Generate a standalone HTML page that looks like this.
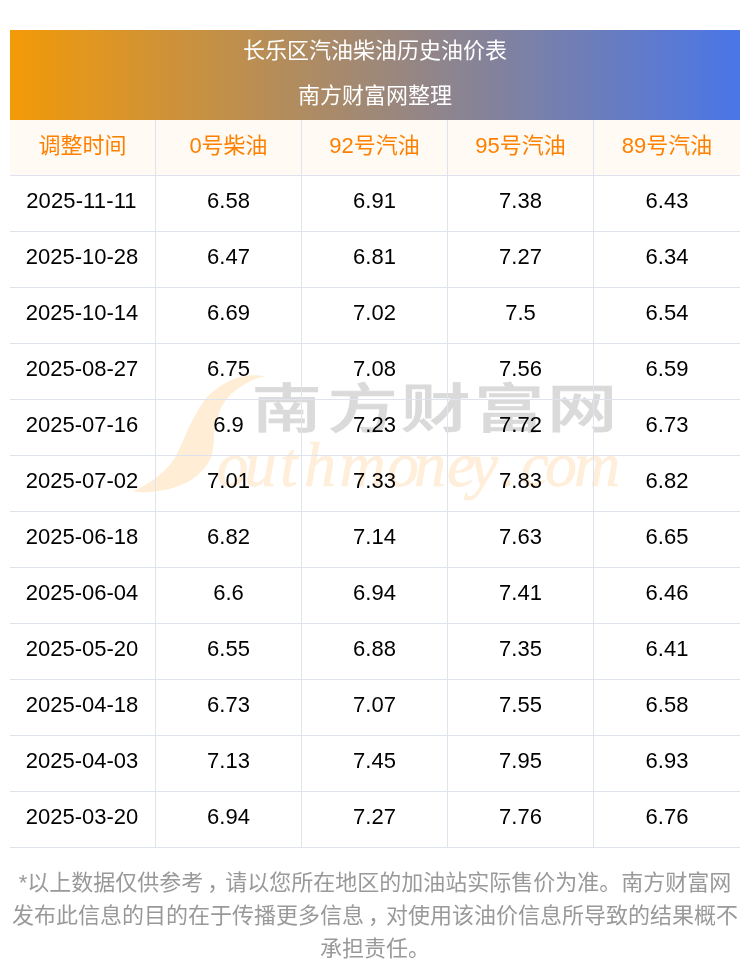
<!DOCTYPE html>
<html lang="zh-CN">
<head>
<meta charset="utf-8">
<title>长乐区汽油柴油历史油价表</title>
<style>
html,body{margin:0;padding:0;background:#fff;}
body{width:750px;height:977px;position:relative;overflow:hidden;font-family:"Liberation Sans","Noto Sans CJK SC",sans-serif;color:#000;}
.wrap{position:absolute;left:10px;top:30px;width:730px;z-index:2;}
.hd{height:90px;background:linear-gradient(90deg,#f39a07 0%,#4a76e8 100%);color:#fff;text-align:center;font-size:22px;}
.hd div{height:45px;line-height:42px;}
table{border-collapse:separate;border-spacing:0;width:730px;table-layout:fixed;}
td,th{height:56px;padding:0 0 6px 0;text-align:center;font-size:22px;font-weight:normal;border-bottom:1px solid #dee3ed;border-right:1px solid #dee3ed;box-sizing:border-box;}
td:last-child,th:last-child{border-right:none;}
th{background:#fffaf3;color:#ff8000;font-size:22px;padding-bottom:9px;}
td:first-child{padding-right:1px;}
tr:nth-child(2) td:first-child{letter-spacing:0.12px;padding-right:2px;}
.ft{position:absolute;left:10px;top:866px;width:730px;text-align:center;color:#999;font-size:22px;line-height:33px;}
.c{position:relative;left:4px;}
.wm{position:absolute;left:0;top:0;z-index:1;}
</style>
</head>
<body>
<svg class="wm" width="750" height="977" viewBox="0 0 750 977">
<path d="M265.3 376.3 C263.5 376.1 258.2 375.3 254.7 375.3 C251.1 375.3 247.6 375.6 244.0 376.3 C240.4 377.0 236.9 377.9 233.3 379.3 C229.8 380.7 226.0 382.7 222.7 384.7 C219.4 386.7 216.2 388.9 213.3 391.3 C210.4 393.7 207.7 396.3 205.3 399.3 C202.9 402.3 200.7 406.1 198.7 409.3 C196.7 412.5 195.1 415.4 193.3 418.7 C191.5 422.0 189.6 426.0 188.0 429.3 C186.4 432.6 185.4 435.5 184.0 438.7 C182.6 441.9 180.9 445.5 179.3 448.7 C177.8 451.9 176.5 455.1 174.7 458.0 C172.9 460.9 170.8 463.6 168.7 466.0 C166.6 468.4 164.4 470.5 162.0 472.7 C159.6 474.9 156.9 477.2 154.0 479.3 C151.1 481.4 148.2 483.2 144.7 485.3 C141.1 487.4 134.7 490.6 132.7 491.6 C134.5 491.7 139.3 492.4 143.3 492.4 C147.3 492.3 152.2 491.9 156.7 491.3 C161.1 490.7 165.6 489.9 170.0 488.7 C174.4 487.5 179.3 485.8 183.3 484.0 C187.3 482.2 190.8 480.3 194.0 478.0 C197.2 475.7 200.2 472.7 202.7 470.0 C205.1 467.3 207.1 464.7 208.7 462.0 C210.2 459.3 211.2 457.1 212.0 454.0 C212.8 450.9 213.3 447.0 213.7 443.3 C214.0 439.6 213.6 435.7 214.1 432.0 C214.6 428.3 215.7 424.9 216.7 421.3 C217.7 417.8 218.8 413.8 220.0 410.7 C221.2 407.6 222.4 405.1 224.0 402.7 C225.6 400.2 227.3 398.1 229.3 396.0 C231.3 393.9 233.6 391.9 236.0 390.0 C238.4 388.1 240.9 386.5 244.0 384.7 C247.1 382.9 251.1 380.7 254.7 379.3 C258.2 377.9 263.5 376.8 265.3 376.3 Z" fill="#ffedd5"/>
<text transform="translate(251.7 428) scale(1.32 1)" x="0 57.6 112.9 168.7 223.9" y="0" font-family="'Liberation Sans','Noto Sans CJK SC',sans-serif" font-weight="500" font-size="53" fill="#dadada" stroke="#dadada" stroke-width="0.7">南方财富网</text>
<text x="216.5 244.4 280 304 339.5 387 414 447 469.8 500 520.5 545 574" y="486" font-family="'Liberation Serif',serif" font-style="italic" font-size="64" fill="#ffeed9" stroke="#ffeed9" stroke-width="0.6">outhmoney.com</text>
</svg>
<div class="wrap">
<div class="hd"><div>长乐区汽油柴油历史油价表</div><div>南方财富网整理</div></div>
<table>
<tr><th>调整时间</th><th>0号柴油</th><th>92号汽油</th><th>95号汽油</th><th>89号汽油</th></tr>
<tr><td>2025-11-11</td><td>6.58</td><td>6.91</td><td>7.38</td><td>6.43</td></tr>
<tr><td>2025-10-28</td><td>6.47</td><td>6.81</td><td>7.27</td><td>6.34</td></tr>
<tr><td>2025-10-14</td><td>6.69</td><td>7.02</td><td>7.5</td><td>6.54</td></tr>
<tr><td>2025-08-27</td><td>6.75</td><td>7.08</td><td>7.56</td><td>6.59</td></tr>
<tr><td>2025-07-16</td><td>6.9</td><td>7.23</td><td>7.72</td><td>6.73</td></tr>
<tr><td>2025-07-02</td><td>7.01</td><td>7.33</td><td>7.83</td><td>6.82</td></tr>
<tr><td>2025-06-18</td><td>6.82</td><td>7.14</td><td>7.63</td><td>6.65</td></tr>
<tr><td>2025-06-04</td><td>6.6</td><td>6.94</td><td>7.41</td><td>6.46</td></tr>
<tr><td>2025-05-20</td><td>6.55</td><td>6.88</td><td>7.35</td><td>6.41</td></tr>
<tr><td>2025-04-18</td><td>6.73</td><td>7.07</td><td>7.55</td><td>6.58</td></tr>
<tr><td>2025-04-03</td><td>7.13</td><td>7.45</td><td>7.95</td><td>6.93</td></tr>
<tr><td>2025-03-20</td><td>6.94</td><td>7.27</td><td>7.76</td><td>6.76</td></tr>
</table>
</div>
<div class="ft">*以上数据仅供参考<span class="c">，</span>请以您所在地区的加油站实际售价为准。南方财富网发布此信息的目的在于传播更多信息<span class="c">，</span>对使用该油价信息所导致的结果概不承担责任。</div>
</body>
</html>
